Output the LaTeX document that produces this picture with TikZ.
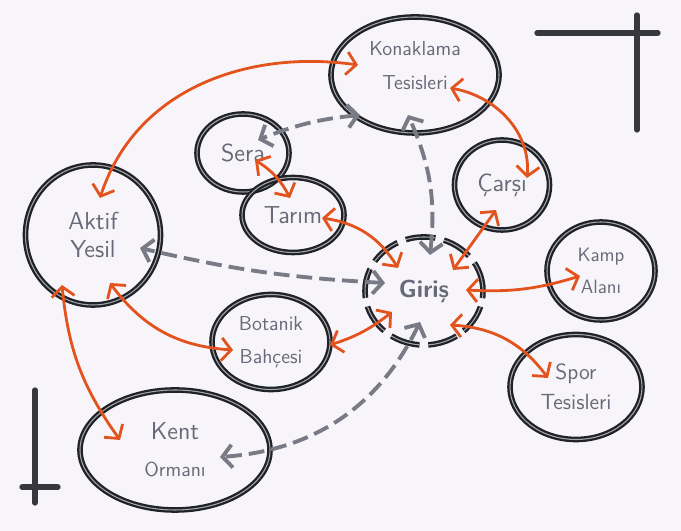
\documentclass[tikz,border=0pt]{standalone}
\usepackage{fontspec}
\usepackage{xcolor}
\usepackage{tikz}
\usetikzlibrary{shapes.geometric,arrows.meta,calc}

\definecolor{ink}{HTML}{202229}
\definecolor{redarrow}{HTML}{E2531E}
\definecolor{dashgray}{HTML}{787B86}
\definecolor{textgray}{HTML}{676A78}
\definecolor{paper}{HTML}{F8F5FA}

\tikzset{
  bubble/.style={ellipse,draw=ink,line width=1.3pt,double=ink!40,double distance=0.6pt,
    inner sep=0pt,align=center,text=textgray,font=\sffamily\fontsize{14}{19}\selectfont},
  smalltext/.style={font=\sffamily\fontsize{11.5}{19}\selectfont},
  redlink/.style={redarrow,line width=1.6pt,
    {Straight Barb[length=5.5pt,width=13pt]}-{Straight Barb[length=5.5pt,width=13pt]}},
  graylink/.style={dashgray,line width=2.2pt,dash pattern=on 9pt off 4pt,
    {Straight Barb[length=5.5pt,width=13pt]}-{Straight Barb[length=5.5pt,width=13pt]}},
  cornermark/.style={ink!90,line width=3pt,line cap=round}
}

\begin{document}
\begin{tikzpicture}[x=0.2mm,y=0.2mm]
\fill[paper] (0,0) rectangle (681,531);
\useasboundingbox (0,0) rectangle (681,531);
\draw[cornermark] (537,498) to (658,498);
\draw[cornermark] (637,516) to (637,401);
\draw[cornermark] (35,141) to (35,28);
\draw[cornermark] (22,44) to (58,44);
\node[bubble,smalltext,minimum width=33.6mm,minimum height=23.2mm] (konak) at (415,456) {Konaklama\\Tesisleri\\[-8pt]};
\node[bubble,minimum width=18.4mm,minimum height=15.6mm] (sera) at (243,378) {Sera};
\node[bubble,minimum width=20.4mm,minimum height=15mm] (tarim) at (293,316) {Tarım};
\node[bubble,minimum width=27mm,minimum height=28mm,font=\sffamily\fontsize{14}{16}\selectfont] (aktif) at (93,296) {Aktif\\Yesil};
\node[bubble,minimum width=23.6mm,minimum height=21.6mm,dash pattern=on 17pt off 5pt,font=\sffamily\bfseries\fontsize{14}{19}\selectfont] (giris) at (424,240) {Giriş};
\node[bubble,minimum width=19mm,minimum height=18mm] (carsi) at (502,346) {Çarşı};
\node[bubble,minimum width=21.6mm,minimum height=19.6mm,font=\sffamily\fontsize{11}{18}\selectfont] (kamp) at (601,260) {Kamp\\Alanı};
\node[bubble,smalltext,minimum width=23.6mm,minimum height=19mm] (botanik) at (271,189) {Botanik\\Bahçesi};
\node[bubble,minimum width=26.4mm,minimum height=21mm,font=\sffamily\fontsize{12.5}{17}\selectfont] (spor) at (576,144) {Spor\\Tesisleri};
\node[bubble,minimum width=38mm,minimum height=24mm,font=\sffamily\fontsize{14}{21}\selectfont] (kent) at (175,81) {Kent\\{\fontsize{11.5}{12}\selectfont Ormanı}};
\draw[redlink] ([shift={(7,37)}]aktif.center) to[out=72,in=172] ([shift={(-57,10)}]konak.center);
\draw[redlink] ([shift={(35,-13)}]konak.center) to[out=-10,in=85] ([shift={(25,7)}]carsi.center);
\draw[redlink] ([shift={(12,-7)}]sera.center) to[bend left=15] ([shift={(-3,17)}]tarim.center);
\draw[redlink] ([shift={(29,-3)}]tarim.center) to[bend left=25] ([shift={(-26,23)}]giris.center);
\draw[redlink] ([shift={(-6,-25)}]carsi.center) to ([shift={(29,21)}]giris.center);
\draw[redlink] ([shift={(42,1)}]giris.center) to[bend right=10] ([shift={(-21,-5)}]kamp.center);
\draw[redlink] ([shift={(26,-34)}]giris.center) to[bend left=25] ([shift={(-28,9)}]spor.center);
\draw[redlink] ([shift={(59,-3)}]botanik.center) to[bend right=10] ([shift={(-32,-21)}]giris.center);
\draw[redlink] ([shift={(17,-48)}]aktif.center) to[bend right=25] ([shift={(-38,-8)}]botanik.center);
\draw[redlink] ([shift={(-31,-50)}]aktif.center) to[bend right=15] ([shift={(-55,10)}]kent.center);
\draw[graylink] ([shift={(-55,-40)}]konak.center) to[bend right=8] ([shift={(15,13)}]sera.center);
\draw[graylink] ([shift={(6,36)}]giris.center) to[bend right=15] ([shift={(-7,-40)}]konak.center);
\draw[graylink] ([shift={(-39,8)}]giris.center) to[bend left=5] ([shift={(47,-13)}]aktif.center);
\draw[graylink] ([shift={(-4,-31)}]giris.center) to[bend left=30] ([shift={(45,-7)}]kent.center);
\end{tikzpicture}
\end{document}
